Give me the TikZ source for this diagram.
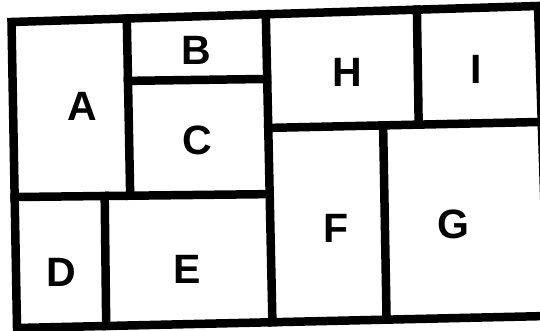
\documentclass[tikz,border=0pt]{standalone}
\usepackage{fontspec}
\setmainfont{Liberation Sans}
\usetikzlibrary{calc}

\begin{document}
\begin{tikzpicture}[x=1pt,y=-1pt,
    wall/.style={draw,black,line width=8.5pt,line cap=rect,line join=miter},
    room/.style={font=\bfseries\fontsize{41}{41}\selectfont,inner sep=0pt}]
    \useasboundingbox (0,0) rectangle (540,331);
    \clip (0,0) rectangle (540,331);

    \coordinate (tl) at (11.5,22);
    \coordinate (tr) at (538,6);
    \coordinate (br) at (548,316);
    \coordinate (bl) at (17,328);
    \coordinate (midtop) at ($(tl)!0.483!(tr)$);
    \coordinate (midbot) at ($(bl)!0.481!(br)$);
    \coordinate (acl) at ($(tl)!0.572!(bl)$);
    \coordinate (acr) at ($(midtop)!0.584!(midbot)$);
    \coordinate (abtop) at ($(tl)!0.219!(tr)$);
    \coordinate (abbot) at ($(acl)!0.453!(acr)$);
    \coordinate (bcl) at ($(abtop)!0.352!(abbot)$);
    \coordinate (bcr) at ($(midtop)!0.21!(midbot)$);
    \coordinate (detop) at ($(acl)!0.353!(acr)$);
    \coordinate (debot) at ($(bl)!0.168!(br)$);
    \coordinate (hfl) at ($(midtop)!0.369!(midbot)$);
    \coordinate (hfr) at ($(tr)!0.374!(br)$);
    \coordinate (hitop) at ($(tl)!0.770!(tr)$);
    \coordinate (hibot) at ($(hfl)!0.55!(hfr)$);
    \coordinate (fgtop) at ($(hfl)!0.42!(hfr)$);
    \coordinate (fgbot) at ($(bl)!0.696!(br)$);

    \draw[wall] (tl) -- (tr) -- (br) -- (bl) -- cycle;
    \draw[wall] (midtop) -- (midbot);
    \draw[wall] (acl) -- (acr);
    \draw[wall] (abtop) -- (abbot);
    \draw[wall] (bcl) -- (bcr);
    \draw[wall] (detop) -- (debot);
    \draw[wall] (hfl) -- (hfr);
    \draw[wall] (hitop) -- (hibot);
    \draw[wall] (fgtop) -- (fgbot);

    \node[room] (A) at (82,106) {A};
    \node[room] (B) at (196,50) {B};
    \node[room] (C) at (197,140) {C};
    \node[room] (D) at (61,272) {D};
    \node[room] (E) at (187,269) {E};
    \node[room] (F) at (336,228) {F};
    \node[room] (G) at (453,224) {G};
    \node[room] (H) at (347,72) {H};
    \node[room] (I) at (476,69) {I};
\end{tikzpicture}
\end{document}
